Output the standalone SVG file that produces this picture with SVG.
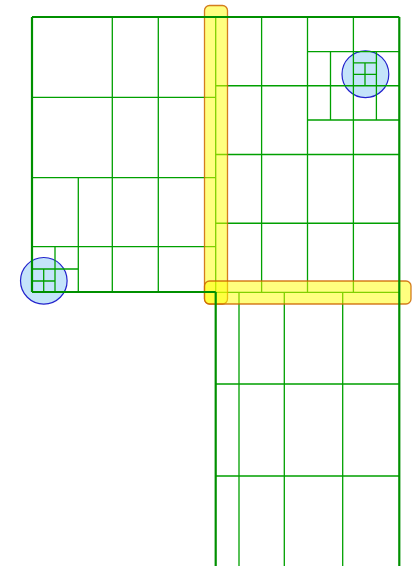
<svg xmlns="http://www.w3.org/2000/svg" width="418" height="566" viewBox="0 0 418 566">
<style>
.thin{stroke:#00a000;stroke-width:1.3;fill:none}
.thick{stroke:#009000;stroke-width:2.2;fill:none}
.circ{fill:#c4e4fa;stroke:#2222cc;stroke-width:1.2}
.bar{fill:#ffff00;fill-opacity:0.5;stroke:#cc6600;stroke-width:1.3;stroke-opacity:0.85}
</style>
<rect width="418" height="566" fill="#ffffff"/>
<g id="circles">
<circle class="circ" cx="43.8" cy="280.8" r="23.3"/>
<circle class="circ" cx="365.4" cy="74.2" r="23.4"/>
</g>
<g id="left-region">
<path class="thin" d="M112.3 17V292M158.3 17V292M32 97.3H215.7M32 177.7H215.7M32 246.7H215.7M78.3 177.7V292M55 246.7V292M32 269H78.3M43.7 269V292M32 281H55M215.7 17V292"/>
</g>
<g id="right-region">
<path class="thin" d="M261.6 17V292M307.5 17V292M353.4 17V292M215.7 85.75H399.3M215.7 154.5H399.3M215.7 223.25H399.3M307.5 51.7H399.3M307.5 120H399.3M330.5 51.7V120M376.4 51.7V120M353.4 62.8H376.4M353.4 74.3H376.4M365 62.8V85.75M215.7 292.4H399.3"/>
</g>
<g id="bottom-region">
<path class="thin" d="M239 292V566M284.3 292V566M342.7 292V566M215.7 384H399.3M215.7 476H399.3"/>
</g>
<g id="highlights">
<rect class="bar" x="204.5" y="5.5" width="23" height="298.5" rx="5"/>
<rect class="bar" x="204.5" y="281" width="206.5" height="23" rx="5"/>
</g>
<g id="borders">
<path class="thick" d="M32 17H399.3M32 17V292M32 292H215.7M399.3 17V566M215.7 292V566"/>
</g>
</svg>
